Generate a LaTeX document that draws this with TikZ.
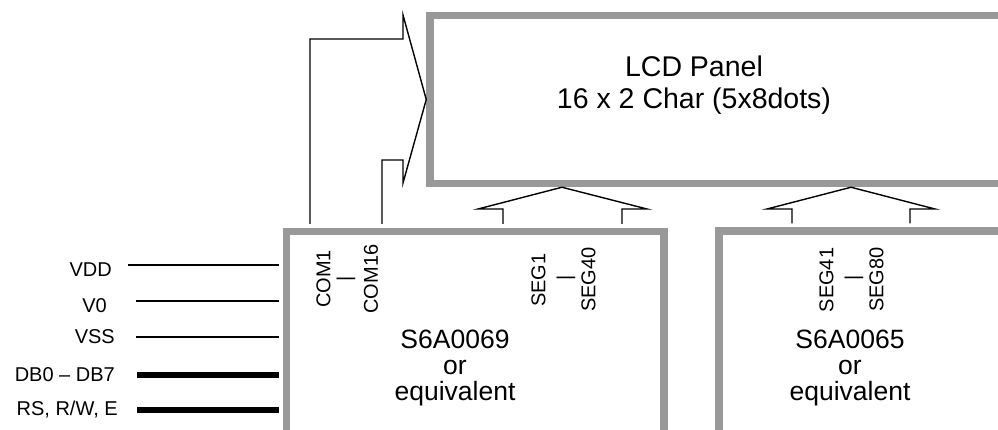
\documentclass[tikz,border=0pt]{standalone}
\usepackage{fontspec}
\setmainfont{Liberation Sans}
\usepackage{xcolor}
\usetikzlibrary{positioning}
\definecolor{frame}{gray}{0.6}

\begin{document}
\begin{tikzpicture}[x=1pt,y=-1pt,
  box/.style={draw=frame,line width=7.5pt,inner sep=0pt,fill=white},
  bus/.style={line width=1.4pt,line join=miter},
  wire/.style={line width=1.4pt},
  thickwire/.style={line width=6pt},
  pinlabel/.style={font=\fontsize{20}{23}\selectfont,anchor=east,inner sep=0pt},
  pinname/.style={font=\fontsize{20}{23}\selectfont,rotate=90,inner sep=0pt},
  title/.style={font=\fontsize{28.5}{32}\selectfont,align=center,inner sep=0pt},
  chiptxt/.style={font=\fontsize{26.5}{26}\selectfont,align=center,inner sep=0pt}]
  \path[use as bounding box] (0,0) rectangle (998,430);
  \clip (0,0) rectangle (998,430);

  % panel and driver boxes
  \node[box,minimum width=600pt,minimum height=168pt] (lcd) at (730,99.5) {};
  \node[box,minimum width=377.5pt,minimum height=210pt] (drvA) at (475.25,336.5) {};
  \node[box,minimum width=400pt,minimum height=210pt] (drvB) at (919,336) {};
  \coordinate (drvAtop) at ([yshift=3.75pt]drvA.north);
  \coordinate (drvBtop) at ([yshift=3.75pt]drvB.north);
  \coordinate (drvAleft) at ([xshift=-3.75pt]drvA.west);

  \node[title] (lcdtxt) at (694,85.5) {LCD Panel\\16 x 2 Char (5x8dots)};
  \node[chiptxt] (drvAtxt) at (455,368) {S6A0069\\or\\equivalent};
  \node[chiptxt] (drvBtxt) at (850,368) {S6A0065\\or\\equivalent};

  % pin names on the drivers
  \node[pinname] (com1) at (323.5,279) {COM1};
  \node[pinname] (comdash) at (346,279) {|};
  \node[pinname] (com16) at (371,279) {COM16};
  \node[pinname] (seg1) at (538.5,280) {SEG1};
  \node[pinname] (segdashA) at (566,278) {|};
  \node[pinname] (seg40) at (588.5,279.5) {SEG40};
  \node[pinname] (seg41) at (826.5,280) {SEG41};
  \node[pinname] (segdashB) at (854,278) {|};
  \node[pinname] (seg80) at (876.5,279.5) {SEG80};

  % wide arrows
  \draw[bus] (310,0 |- drvAtop) |- (403,39) -- (403,15) -- (lcd.west)
    -- (403,183) -- (403,160) -| (382,0 |- drvAtop);
  \draw[bus] (503,0 |- drvAtop) |- (478,209) -- (562,0 |- lcd.south)
    -- (647,209) -- (622,209) -- (622,0 |- drvAtop);
  \draw[bus] (792,0 |- drvBtop) |- (767,209) -- (851,0 |- lcd.south)
    -- (935,209) -- (910,209) -- (910,0 |- drvBtop);

  % interface pins
  \node[pinlabel] (vddtxt) at (112,270) {VDD};
  \node[pinlabel] (v0txt) at (107,306) {V0};
  \node[pinlabel] (vsstxt) at (115,337) {VSS};
  \node[pinlabel] (dbtxt) at (115,375) {DB0 – DB7};
  \node[pinlabel] (ctltxt) at (118,410) {RS, R/W, E};
  \coordinate (vdd) at (128,265);
  \coordinate (v0) at (136,301);
  \coordinate (vss) at (136,337);
  \coordinate (db) at (137,375);
  \coordinate (ctl) at (137,410);
  \draw[wire] (vdd) -- (vdd -| drvAleft);
  \draw[wire] (v0) -- (v0 -| drvAleft);
  \draw[wire] (vss) -- (vss -| drvAleft);
  \draw[thickwire] (db) -- (db -| drvAleft);
  \draw[thickwire] (ctl) -- (ctl -| drvAleft);
\end{tikzpicture}
\end{document}
